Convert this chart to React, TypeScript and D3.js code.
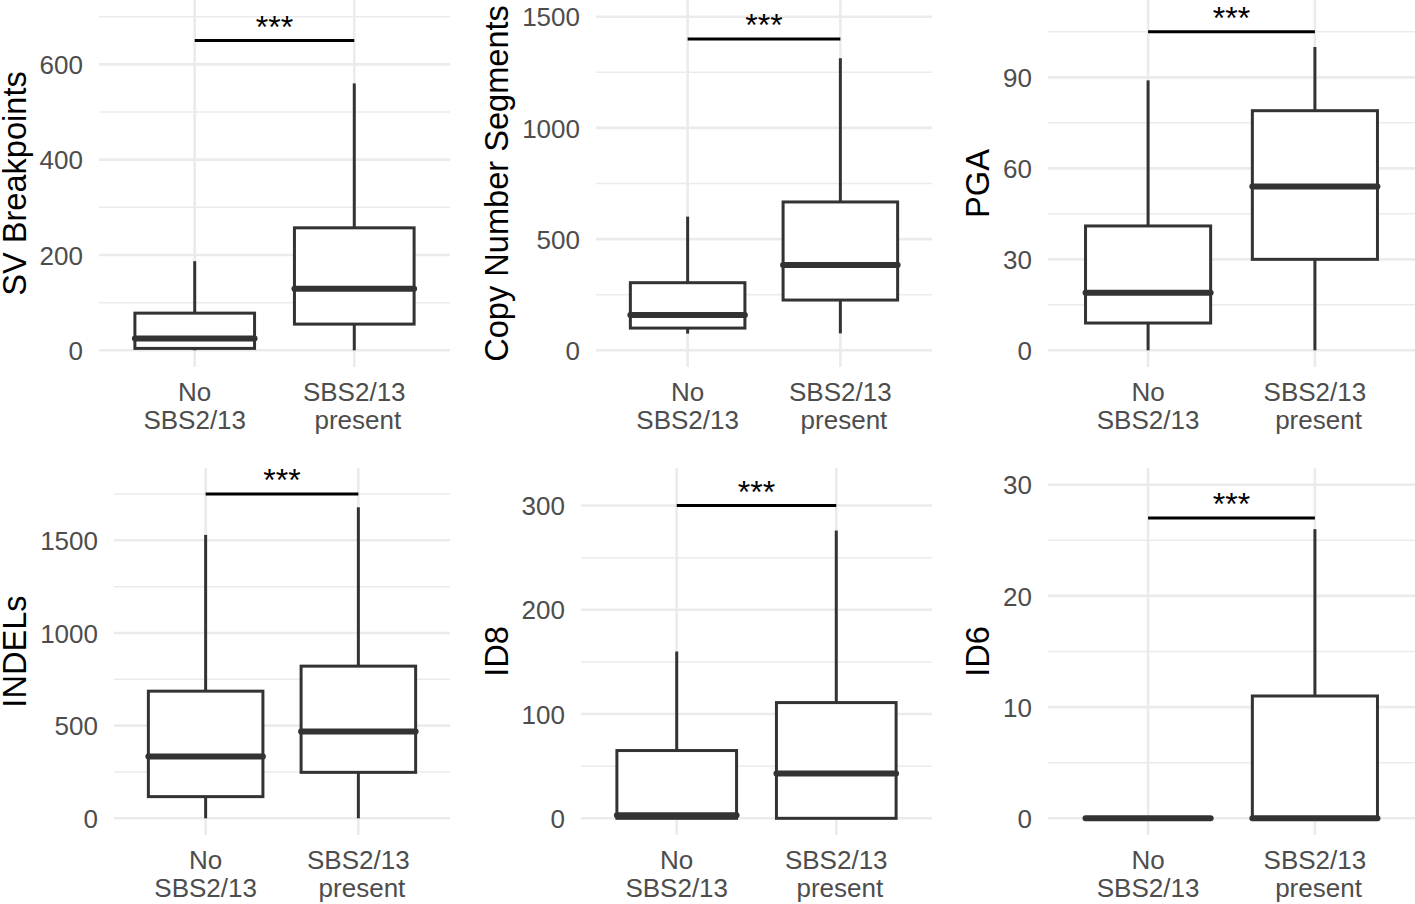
import React from "react";
import * as d3 from "d3";

// ---- data (box stats: [lower whisker, Q1, median, Q3, upper whisker]) ----
const CATEGORIES = ["No\nSBS2/13", "SBS2/13\n\u00A0present"];
const PANEL_TITLES = ["SV Breakpoints", "Copy Number Segments", "PGA", "INDELs", "ID8", "ID6"];

const SV_NO = [0, 4, 25, 78, 187];
const SV_PRESENT = [0, 55, 129, 257, 560];
const CN_NO = [75, 100, 159, 304, 601];
const CN_PRESENT = [76, 226, 384, 667, 1313];
const PGA_NO = [0, 9, 19, 41, 89];
const PGA_PRESENT = [0, 30, 54, 79, 100];
const INDEL_NO = [0, 117, 334, 686, 1529];
const INDEL_PRESENT = [0, 248, 469, 821, 1678];
const ID8_NO = [0, 0, 3, 65, 160];
const ID8_PRESENT = [0, 0, 43, 111, 276];
const ID6_NO = [0, 0, 0, 0, 0];
const ID6_PRESENT = [0, 0, 0, 11, 26];

const Y_TICKS = [
  [0, 200, 400, 600],
  [0, 500, 1000, 1500],
  [0, 30, 60, 90],
  [0, 500, 1000, 1500],
  [0, 100, 200, 300],
  [0, 10, 20, 30],
];
const Y_MAX = [700, 1500, 110, 1800, 320, 30];
const SIG_Y = [650, 1400, 105, 1750, 300, 27];
const SIG_LABEL = "***";

const SERIES = [
  [SV_NO, SV_PRESENT],
  [CN_NO, CN_PRESENT],
  [PGA_NO, PGA_PRESENT],
  [INDEL_NO, INDEL_PRESENT],
  [ID8_NO, ID8_PRESENT],
  [ID6_NO, ID6_PRESENT],
];

// ---- layout ----
const W = 1415;
const H = 904;
const PANELS = [
  { x0: 99, x1: 450, y0: 0, y1: 367 },
  { x0: 596, x1: 932, y0: 0, y1: 367 },
  { x0: 1048, x1: 1415, y0: 0, y1: 367 },
  { x0: 114, x1: 450, y0: 468, y1: 835 },
  { x0: 581, x1: 932, y0: 468, y1: 835 },
  { x0: 1048, x1: 1415, y0: 468, y1: 835 },
];
const FONT = "'Liberation Sans', Arial, Helvetica, sans-serif";
const TICK_SIZE = 26;
const TITLE_SIZE = 32.6;
const GRID = "#EBEBEB";
const INK = "#333333";
const TICK_COLOR = "#4D4D4D";

function Panel({ idx }: { idx: number }) {
  const p = PANELS[idx];
  const ymax = Y_MAX[idx];
  const y = d3.scaleLinear().domain([-0.05 * ymax, ymax * 1.05]).range([p.y1, p.y0]);
  const x = d3.scalePoint<string>().domain(CATEGORIES).range([p.x0, p.x1]).padding(0.6);
  const step = x.step();
  const boxW = step * 0.75;
  const ticks = Y_TICKS[idx];
  const [dmin, dmax] = y.domain();
  const tStep = ticks[1] - ticks[0];
  const minor: number[] = [];
  for (let v = ticks[0] - tStep / 2; v <= dmax; v += tStep) {
    if (v >= dmin) minor.push(v);
  }
  const maxTickChars = d3.max(ticks, (t) => String(t).length) as number;
  const tickW = maxTickChars * 0.556 * TICK_SIZE;
  const titleX = p.x0 - 17 - tickW - 13;
  const titleY = (p.y0 + p.y1) / 2;
  const c1 = x(CATEGORIES[0]) as number;
  const c2 = x(CATEGORIES[1]) as number;
  const sy = y(SIG_Y[idx]);

  return (
    <g>
      {/* grid */}
      {minor.map((v) => (
        <line key={"mi" + v} x1={p.x0} x2={p.x1} y1={y(v)} y2={y(v)} stroke={GRID} strokeWidth={1.5} />
      ))}
      {ticks.map((v) => (
        <line key={"ma" + v} x1={p.x0} x2={p.x1} y1={y(v)} y2={y(v)} stroke={GRID} strokeWidth={2.6} />
      ))}
      {CATEGORIES.map((c) => (
        <line key={"vx" + c} x1={x(c)} x2={x(c)} y1={p.y0} y2={p.y1} stroke={GRID} strokeWidth={2.6} />
      ))}
      {/* tick labels */}
      {ticks.map((v) => (
        <text key={"tl" + v} x={p.x0 - 16} y={y(v)} dy="0.37em" textAnchor="end" fontSize={TICK_SIZE} fill={TICK_COLOR} fontFamily={FONT}>
          {v}
        </text>
      ))}
      {CATEGORIES.map((c) => (
        <text key={"xl" + c} textAnchor="middle" fontSize={TICK_SIZE} fill={TICK_COLOR} fontFamily={FONT}>
          {c.split("\n").map((line, i) => (
            <tspan key={i} x={x(c)} y={p.y1 + 34 + i * 28}>
              {line}
            </tspan>
          ))}
        </text>
      ))}
      {/* y title */}
      <text transform={`translate(${titleX},${titleY}) rotate(-90)`} textAnchor="middle" fontSize={TITLE_SIZE} fill="#000" fontFamily={FONT}>
        {PANEL_TITLES[idx]}
      </text>
      {/* boxes */}
      {SERIES[idx].map((s, i) => {
        const cx = x(CATEGORIES[i]) as number;
        const [lo, q1, med, q3, hi] = s;
        return (
          <g key={"b" + i}>
            <line x1={cx} x2={cx} y1={y(q3)} y2={y(hi)} stroke={INK} strokeWidth={3} />
            <line x1={cx} x2={cx} y1={y(q1)} y2={y(lo)} stroke={INK} strokeWidth={3} />
            <rect x={cx - boxW / 2} y={y(q3)} width={boxW} height={Math.max(0, y(q1) - y(q3))} fill="#fff" stroke={INK} strokeWidth={3} />
            <line x1={cx - boxW / 2} x2={cx + boxW / 2} y1={y(med)} y2={y(med)} stroke={INK} strokeWidth={6} strokeLinecap="round" />
          </g>
        );
      })}
      {/* significance */}
      <line x1={c1} x2={c2} y1={sy} y2={sy} stroke="#000" strokeWidth={3} />
      <text x={(c1 + c2) / 2} y={sy - 3} textAnchor="middle" fontSize={32} fill="#000" fontFamily={FONT}>
        {SIG_LABEL}
      </text>
    </g>
  );
}

export default function App() {
  return (
    <div style={{ position: "absolute", left: 0, top: 0 }}>
      <svg width={W} height={H} style={{ display: "block", background: "#fff" }}>
        <rect x={0} y={0} width={W} height={H} fill="#fff" />
        {PANELS.map((_, i) => (
          <Panel key={i} idx={i} />
        ))}
      </svg>
    </div>
  );
}
